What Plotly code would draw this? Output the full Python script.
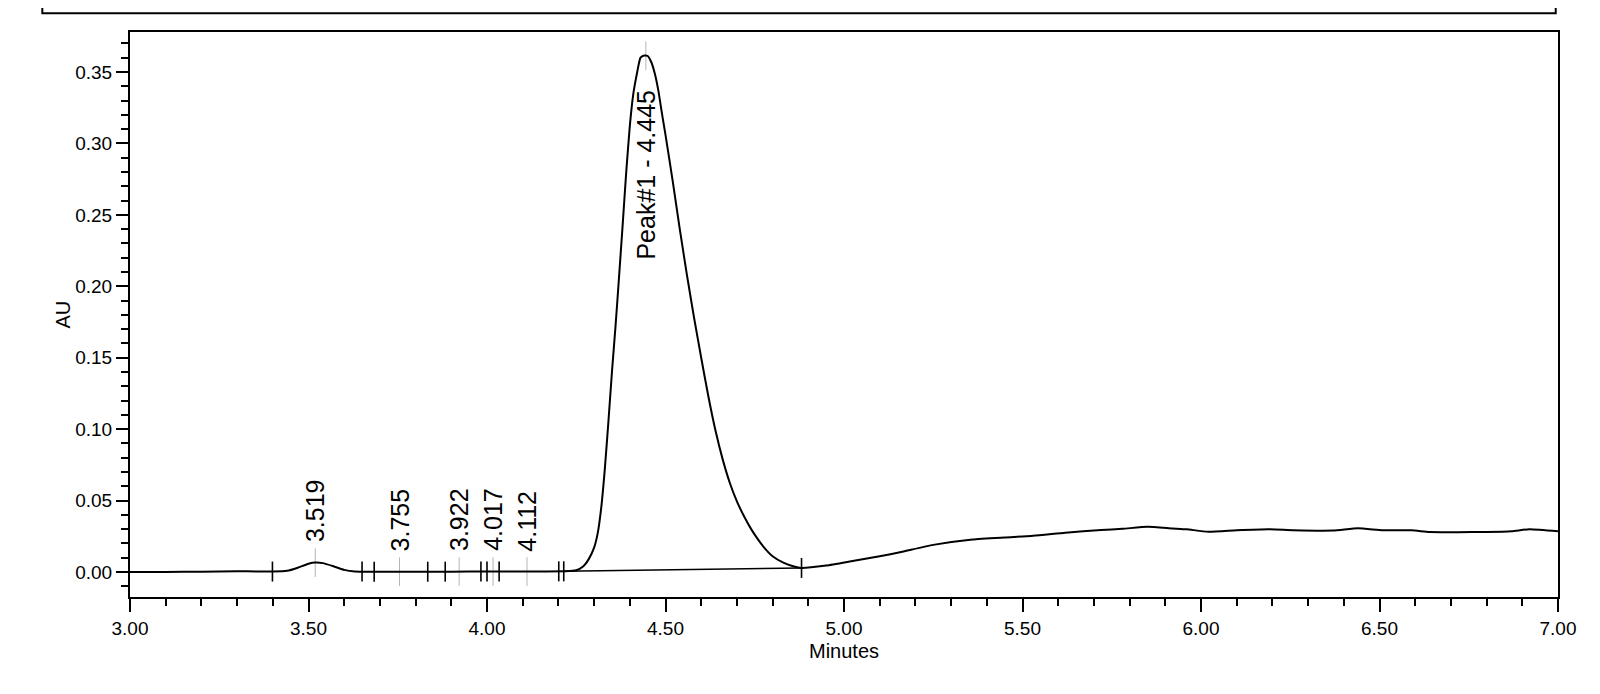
import numpy as np
import plotly.graph_objects as go

# chromatogram trace (minutes, AU)
time = [3.00, 3.10, 3.20, 3.30, 3.36, 3.40, 3.44, 3.47, 3.50, 3.52, 3.54, 3.57,
        3.60, 3.63, 3.68, 3.75, 3.85, 3.95, 4.05, 4.15, 4.22, 4.25, 4.27, 4.285,
        4.30, 4.31, 4.32, 4.33, 4.34, 4.35, 4.36, 4.37, 4.38, 4.39, 4.40, 4.41,
        4.42, 4.43, 4.44, 4.45, 4.46, 4.47, 4.48, 4.49, 4.50, 4.52, 4.54, 4.56,
        4.58, 4.60, 4.62, 4.64, 4.66, 4.68, 4.70, 4.72, 4.74, 4.76, 4.78, 4.80,
        4.83, 4.86, 4.88, 4.95, 5.02, 5.10, 5.16, 5.25, 5.36, 5.45, 5.53, 5.62,
        5.72, 5.78, 5.85, 5.92, 5.96, 6.02, 6.10, 6.19, 6.26, 6.37, 6.44, 6.51,
        6.59, 6.64, 6.72, 6.80, 6.87, 6.92, 7.00]
au = [0.0000, 0.0000, 0.0002, 0.0005, 0.0004, 0.0003, 0.0008, 0.0030, 0.0058, 0.0066, 0.0062, 0.0040,
      0.0015, 0.0004, 0.0002, 0.0002, 0.0002, 0.0003, 0.0003, 0.0004, 0.0005, 0.0012, 0.0040, 0.0090,
      0.0170, 0.0270, 0.0450, 0.0720, 0.1050, 0.1400, 0.1720, 0.2070, 0.2430, 0.2800, 0.3120, 0.3350,
      0.3490, 0.3600, 0.3615, 0.3612, 0.3570, 0.3490, 0.3370, 0.3210, 0.3060, 0.2740, 0.2400, 0.2080,
      0.1780, 0.1500, 0.1230, 0.0990, 0.0790, 0.0625, 0.0495, 0.0390, 0.0300, 0.0225, 0.0160, 0.0110,
      0.0065, 0.0038, 0.0028, 0.0045, 0.0075, 0.0110, 0.0140, 0.0190, 0.0228, 0.0242, 0.0253, 0.0275,
      0.0294, 0.0302, 0.0317, 0.0305, 0.0299, 0.0282, 0.0292, 0.0299, 0.0292, 0.0290, 0.0306, 0.0292,
      0.0292, 0.0280, 0.0279, 0.0280, 0.0285, 0.0299, 0.0285]

# integration events
apex_times = [3.519, 3.755, 3.922, 4.017, 4.112, 4.445]
apex_labels = ['3.519', '3.755', '3.922', '4.017', '4.112', 'Peak#1 - 4.445']
marker_times = [3.399, 3.650, 3.684, 3.834, 3.883, 3.983, 4.000, 4.034, 4.201, 4.215, 4.881]
baseline_times = [4.215, 4.881]

FONT = 'Arial, Liberation Sans, sans-serif'


def vlines(ts, half):
    xs, ys = [], []
    for t in ts:
        s = float(np.interp(t, time, au))
        xs += [t, t, None]
        ys += [s - half, s + half, None]
    return xs, ys


fig = go.Figure()

gx, gy = vlines(apex_times, 0.01)
fig.add_trace(go.Scatter(x=gx, y=gy, mode='lines', line=dict(color='#b4b4b4', width=1),
                         hoverinfo='skip', showlegend=False))

fig.add_trace(go.Scatter(x=baseline_times, y=list(np.interp(baseline_times, time, au)),
                         mode='lines', line=dict(color='black', width=1.6),
                         hoverinfo='skip', showlegend=False))

fig.add_trace(go.Scatter(x=time, y=au, mode='lines',
                         line=dict(color='black', width=2, shape='spline', smoothing=0.5),
                         showlegend=False))

mx, my = vlines(marker_times, 0.007)
fig.add_trace(go.Scatter(x=mx, y=my, mode='lines', line=dict(color='black', width=1.6),
                         hoverinfo='skip', showlegend=False))

for t, lab in zip(apex_times, apex_labels):
    s = float(np.interp(t, time, au))
    if lab.startswith('Peak'):
        # too tall to sit above the apex, drop it onto the peak
        fig.add_annotation(x=t, y=0.339, text=lab, textangle=-90, showarrow=False,
                           xanchor='center', yanchor='top', font=dict(size=25, color='black'))
    else:
        fig.add_annotation(x=t, y=s + 0.01, text=lab, textangle=-90, showarrow=False,
                           xanchor='center', yanchor='bottom', yshift=4,
                           font=dict(size=25, color='black'))

fig.add_annotation(x=-0.0476, y=0.5, xref='paper', yref='paper', text='AU', textangle=-90,
                   showarrow=False, xanchor='center', yanchor='middle',
                   font=dict(size=20, color='black'))
fig.add_annotation(x=0.5, y=-0.096, xref='paper', yref='paper', text='Minutes',
                   showarrow=False, xanchor='center', yanchor='middle',
                   font=dict(size=20, color='black'))

# header box, only its lower part is in view
fig.add_shape(type='rect', xref='paper', yref='paper', x0=-0.0614, x1=0.9984, y0=1.0331, y1=1.4,
              line=dict(color='black', width=2))

# page body has an 8px margin, so the figure is 8px smaller each way
fig.update_layout(
    width=1592, height=686,
    margin=dict(l=122, r=42, t=24, b=97),
    paper_bgcolor='white', plot_bgcolor='white',
    font=dict(family=FONT, size=19, color='black'),
    xaxis=dict(
        range=[3.0, 7.0], dtick=0.5, tick0=3.0, tickformat='.2f',
        ticks='outside', ticklen=13, tickwidth=1.5, tickcolor='black',
        showline=True, linecolor='black', linewidth=2, mirror=True,
        showgrid=False, zeroline=False,
        minor=dict(dtick=0.1, tick0=3.0, ticks='outside', ticklen=7, tickwidth=1.5, tickcolor='black'),
    ),
    yaxis=dict(
        range=[-0.0175, 0.378], dtick=0.05, tick0=0, tickformat='.2f',
        ticks='outside', ticklen=12, tickwidth=1.5, tickcolor='black',
        showline=True, linecolor='black', linewidth=2, mirror=True,
        showgrid=False, zeroline=False,
        minor=dict(dtick=0.01, tick0=0, ticks='outside', ticklen=7, tickwidth=1.5, tickcolor='black'),
    ),
)

fig.write_html('out.html')
